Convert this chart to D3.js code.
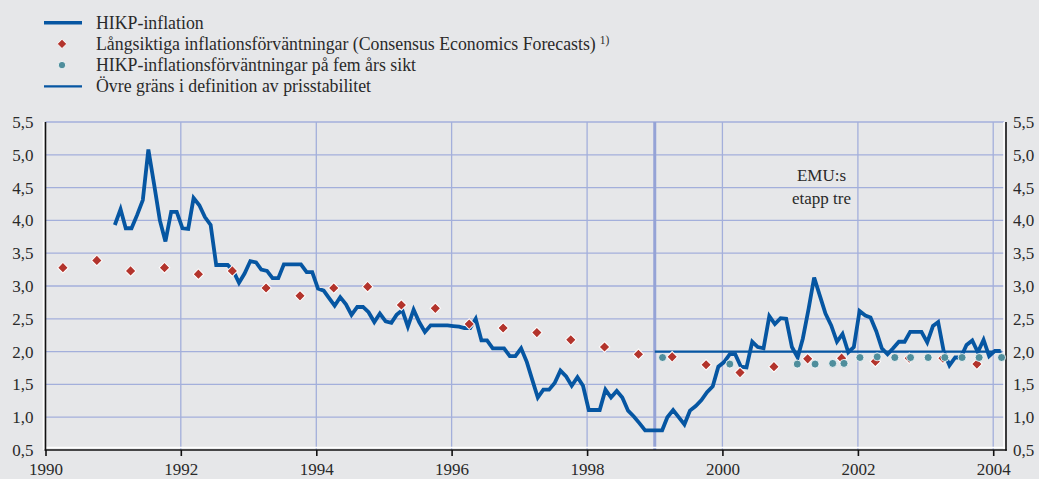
<!DOCTYPE html>
<html>
<head>
<meta charset="utf-8">
<script src="https://cdn.jsdelivr.net/npm/d3@7"></script>
<style>
body { margin: 0; background: #e6e7e9; }
svg { display: block; }
</style>
</head>
<body>
<svg id="chart" width="1039" height="479"></svg>
<script>
// HIKP-inflation, monthly from jan 1991 (one row per year)
var hikpStart = [1991, 0];
var hikp = [
    3.93, 4.17, 3.88, 3.88, 4.08, 4.31, 5.08, 4.55, 4.00, 3.68, 4.13, 4.13, // 1991
    3.88, 3.87, 4.34, 4.23, 4.05, 3.93, 3.32, 3.32, 3.32, 3.23, 3.05, 3.19, // 1992
    3.38, 3.36, 3.25, 3.23, 3.12, 3.12, 3.33, 3.33, 3.33, 3.33, 3.21, 3.21, // 1993
    2.96, 2.93, 2.82, 2.70, 2.83, 2.72, 2.56, 2.68, 2.68, 2.60, 2.45, 2.58, // 1994
    2.46, 2.44, 2.56, 2.63, 2.38, 2.64, 2.45, 2.30, 2.40, 2.40, 2.40, 2.40, // 1995
    2.39, 2.38, 2.36, 2.36, 2.50, 2.17, 2.17, 2.05, 2.05, 2.05, 1.93, 1.93, // 1996
    2.05, 1.84, 1.58, 1.30, 1.42, 1.42, 1.52, 1.71, 1.62, 1.48, 1.61, 1.48, // 1997
    1.11, 1.11, 1.11, 1.42, 1.30, 1.40, 1.30, 1.10, 1.01, 0.91, 0.80, 0.80, // 1998
    0.80, 0.80, 1.00, 1.11, 1.00, 0.89, 1.10, 1.17, 1.26, 1.38, 1.47, 1.77, // 1999
    1.84, 1.96, 1.96, 1.77, 1.76, 2.15, 2.07, 2.05, 2.54, 2.42, 2.51, 2.50, // 2000
    2.07, 1.91, 2.20, 2.65, 3.13, 2.85, 2.58, 2.40, 2.15, 2.27, 1.99, 2.07, // 2001
    2.62, 2.55, 2.52, 2.31, 2.05, 1.96, 2.05, 2.15, 2.15, 2.30, 2.30, 2.30, // 2002
    2.14, 2.39, 2.45, 1.99, 1.79, 1.91, 1.91, 2.10, 2.17, 1.99, 2.18, 1.93, // 2003
    2.01, 2.01                                                              // 2004
];

// Consensus Economics, april and october each year 1990-2003
var consensusYears = d3.range(1990, 2004);
var consensus = [
    3.28, 3.39, 3.23, 3.28, 3.18, 3.23, 2.97, 2.85, 2.97, 2.99,
    2.71, 2.66, 2.42, 2.36, 2.29, 2.18, 2.07, 1.96, 1.92, 1.80,
    1.68, 1.77, 1.89, 1.90, 1.85, 1.90, 1.90, 1.81
];

// HIKP expectations five years ahead (SPF)
var spfDates = ['1999-02-12', '2000-02-10', '2001-02-08', '2001-05-15', '2001-08-18',
    '2001-10-18', '2002-01-12', '2002-04-15', '2002-07-19', '2002-10-12',
    '2003-01-15', '2003-04-15', '2003-07-17', '2003-10-17', '2004-02-15'];
var spf = [1.91, 1.81, 1.81, 1.81, 1.82, 1.82, 1.91, 1.92, 1.91, 1.91,
    1.91, 1.91, 1.91, 1.91, 1.91];

// upper limit of price stability, from start of EMU stage three
var limitDates = ['1999-01-01', '2004-02-15'];
var limitValue = 2.0;
var emuStart = '1999-01-01';

var xTicks = [1990, 1992, 1994, 1996, 1998, 2000, 2002, 2004];
var yTicks = [0.5, 1.0, 1.5, 2.0, 2.5, 3.0, 3.5, 4.0, 4.5, 5.0, 5.5];

var legendItems = [
    {label: 'HIKP-inflation', kind: 'thick'},
    {label: 'Långsiktiga inflationsförväntningar (Consensus Economics Forecasts)', kind: 'diamond', note: '1)'},
    {label: 'HIKP-inflationsförväntningar på fem års sikt', kind: 'dot'},
    {label: 'Övre gräns i definition av prisstabilitet', kind: 'thin'}
];

function draw_chart () {
    var blue = '#0656a2', red = '#b3342c', teal = '#4f8e9c', grid = '#a3afdb', ink = '#2a2a2a';
    var serif = "'Liberation Serif', 'Times New Roman', serif";
    var parse = d3.timeParse('%Y-%m-%d');

    var svg = d3.select('#chart');
    var mLeft = 45.5, mRight = 1006, mTop = 122, mBottom = 450;

    var x = d3.scaleTime()
        .domain([new Date(1990, 0, 1), new Date(2004, 2, 10)])
        .range([mLeft, mRight]);
    var y = d3.scaleLinear()
        .domain([0.5, 5.5])
        .range([mBottom, mTop]);

    // gridlines
    svg.append('g').selectAll('line')
        .data(yTicks.slice(1))
        .enter().append('line')
        .attr('x1', mLeft).attr('x2', mRight - 2)
        .attr('y1', function (d) { return y(d); })
        .attr('y2', function (d) { return y(d); })
        .attr('stroke', grid).attr('stroke-width', 1.3);
    svg.append('g').selectAll('line')
        .data(xTicks.slice(1))
        .enter().append('line')
        .attr('x1', function (d) { return x(new Date(d, 0, 1)); })
        .attr('x2', function (d) { return x(new Date(d, 0, 1)); })
        .attr('y1', mTop).attr('y2', mBottom)
        .attr('stroke', grid).attr('stroke-width', 1.3);
    // EMU stage three marker
    svg.append('line')
        .attr('x1', x(parse(emuStart))).attr('x2', x(parse(emuStart)))
        .attr('y1', mTop).attr('y2', mBottom)
        .attr('stroke', '#95a3d6').attr('stroke-width', 3);

    svg.append('text')
        .attr('x', 821.5).attr('y', 181)
        .attr('text-anchor', 'middle')
        .style('font-family', serif)
        .attr('font-size', 17).attr('fill', ink)
        .text('EMU:s');
    svg.append('text')
        .attr('x', 821.5).attr('y', 203.5)
        .attr('text-anchor', 'middle')
        .style('font-family', serif)
        .attr('font-size', 17).attr('fill', ink)
        .text('etapp tre');

    // axis frame: white shadow + black line
    function frameLine(x1, y1, x2, y2, colour, w) {
        svg.append('line')
            .attr('x1', x1).attr('y1', y1).attr('x2', x2).attr('y2', y2)
            .attr('stroke', colour).attr('stroke-width', w);
    }
    frameLine(mLeft - 2, mTop, mLeft - 2, mBottom, '#fff', 1.5);
    frameLine(mLeft, mBottom - 2.5, mRight, mBottom - 2.5, '#fff', 1.5);
    frameLine(mRight - 2, mTop, mRight - 2, mBottom, '#fff', 1.5);
    frameLine(mLeft, mTop, mLeft, mBottom + 0.8, '#111', 1.6);
    frameLine(mRight, mTop, mRight, mBottom + 0.8, '#111', 1.6);
    frameLine(mLeft - 0.8, mBottom, mRight + 0.8, mBottom, '#111', 1.6);

    var fmt = function (d) { return d.toFixed(1).replace('.', ','); };

    var yl = svg.append('g')
        .attr('transform', 'translate(' + mLeft + ',0)')
        .call(d3.axisLeft(y).tickValues(yTicks).tickFormat(fmt).tickSize(0).tickPadding(12));
    var yr = svg.append('g')
        .attr('transform', 'translate(' + mRight + ',0)')
        .call(d3.axisRight(y).tickValues(yTicks).tickFormat(fmt).tickSize(0).tickPadding(7));
    var xa = svg.append('g')
        .attr('transform', 'translate(0,' + mBottom + ')')
        .call(d3.axisBottom(x)
            .tickValues(xTicks.map(function (d) { return new Date(d, 0, 1); }))
            .tickFormat(d3.timeFormat('%Y'))
            .tickSizeInner(6).tickSizeOuter(0).tickPadding(7));
    [yl, yr, xa].forEach(function (g) {
        g.attr('font-family', null);
        g.select('.domain').remove();
        g.selectAll('text')
            .style('font-family', serif)
            .attr('font-size', 17)
            .attr('fill', ink);
        g.selectAll('line').attr('stroke', '#111').attr('stroke-width', 1.6);
    });

    // price stability limit
    svg.append('line')
        .attr('x1', x(parse(limitDates[0]))).attr('x2', x(parse(limitDates[1])))
        .attr('y1', y(limitValue)).attr('y2', y(limitValue))
        .attr('stroke', blue).attr('stroke-width', 2.2);

    // HIKP line
    var hikpData = hikp.map(function (v, i) {
        return {date: new Date(hikpStart[0], hikpStart[1] + i, 10), value: v};
    });
    svg.append('path')
        .datum(hikpData)
        .attr('fill', 'none')
        .attr('stroke', blue)
        .attr('stroke-width', 3.8)
        .attr('stroke-linejoin', 'miter')
        .attr('d', d3.line()
            .x(function (d) { return x(d.date); })
            .y(function (d) { return y(d.value); }));

    // consensus diamonds (april, october)
    var consensusDates = [];
    consensusYears.forEach(function (yr) {
        consensusDates.push(new Date(yr, 3, 5), new Date(yr, 9, 5));
    });
    var diamond = d3.symbol().type(d3.symbolSquare).size(56);
    svg.append('g').selectAll('path')
        .data(consensus)
        .enter().append('path')
        .attr('d', diamond)
        .attr('transform', function (d, i) {
            return 'translate(' + x(consensusDates[i]) + ',' + y(d) + ') rotate(45)';
        })
        .attr('fill', red)
        .attr('stroke', '#fff').attr('stroke-width', 1);

    // SPF dots
    svg.append('g').selectAll('circle')
        .data(spf)
        .enter().append('circle')
        .attr('cx', function (d, i) { return x(parse(spfDates[i])); })
        .attr('cy', function (d) { return y(d); })
        .attr('r', 4)
        .attr('fill', teal)
        .attr('stroke', '#fff').attr('stroke-width', 0.8);

    // legend
    var lg = svg.append('g');
    legendItems.forEach(function (item, i) {
        var cy = 22.7 + i * 21.2;
        if (item.kind === 'thick' || item.kind === 'thin') {
            lg.append('line')
                .attr('x1', 44).attr('x2', 82).attr('y1', cy).attr('y2', cy)
                .attr('stroke', blue).attr('stroke-width', item.kind === 'thick' ? 3.4 : 2.2);
        } else if (item.kind === 'diamond') {
            lg.append('path').attr('d', d3.symbol().type(d3.symbolSquare).size(44))
                .attr('transform', 'translate(62,' + cy + ') rotate(45)')
                .attr('fill', red).attr('stroke', '#fff').attr('stroke-width', 0.9);
        } else {
            lg.append('circle').attr('cx', 62).attr('cy', cy).attr('r', 3.7)
                .attr('fill', teal).attr('stroke', '#fff').attr('stroke-width', 0.8);
        }
        var t = lg.append('text')
            .attr('x', 96).attr('y', cy + 5.8)
            .style('font-family', serif)
            .attr('font-size', 17.8).attr('fill', ink)
            .text(item.label);
        if (item.note) {
            t.append('tspan').attr('dx', 4).attr('dy', -6).attr('font-size', 11.5).text(item.note);
        }
    });
}

draw_chart();
</script>
</body>
</html>
